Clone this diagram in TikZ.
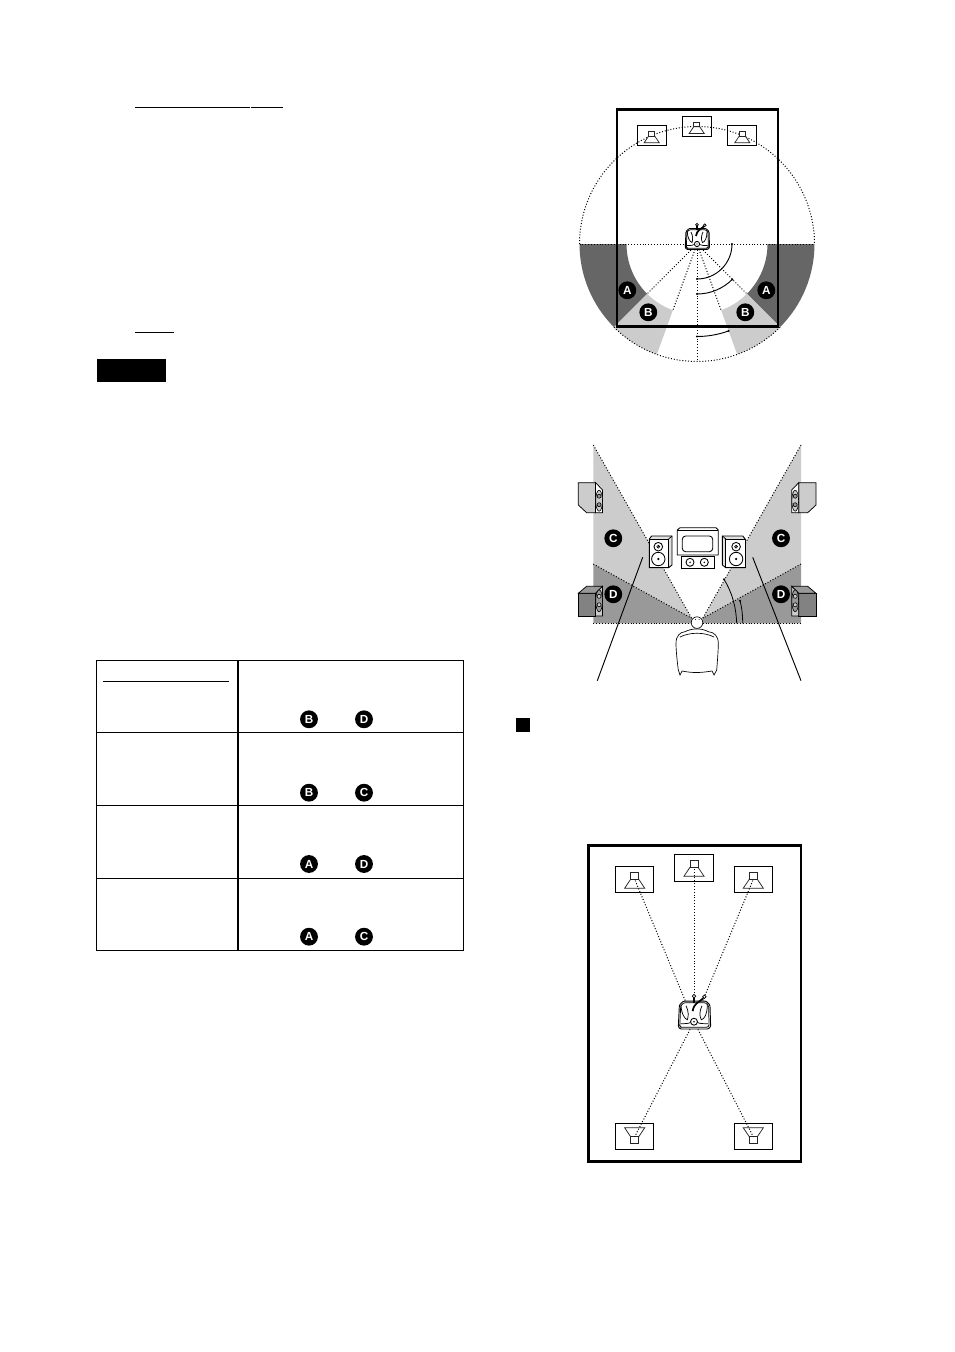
\documentclass[tikz,border=0pt]{standalone}
\usepackage{fontspec}
\usetikzlibrary{calc}
\setmainfont{Liberation Sans}
\definecolor{dkA}{gray}{0.40}
\definecolor{ltA}{gray}{0.80}
\definecolor{dkD}{gray}{0.60}
\tikzset{
  thinline/.style={line width=0.5pt,black},
  dots/.style={line width=0.75pt,black,dash pattern=on 0.75pt off 1.4pt},
  thickframe/.style={draw=black,line width=1.8pt},
  badge/.style={circle,fill=black,text=white,inner sep=0pt,minimum size=13.4pt,font=\bfseries\fontsize{8.8}{9}\selectfont},
  spkbox/.style={draw=black,line width=0.65pt,inner sep=0pt,minimum width=#1},
  cone/.style={draw=black!85,line width=0.55pt,fill=white},
  spkicon/.pic={
    \path[cone] (-3,0) -- (3,0) -- (7.5,6.7) -- (-7.5,6.7) -- cycle;
    \path[cone] (-3,-4.8) rectangle (3,0);
  },
  tvicon/.pic={
    \path[draw=black,line width=0.7pt,fill=white,rounded corners=0.8pt]
      (-11,-12.5) -- (-8,-15.5) -- (9,-15.5) -- (12,-12.5) -- (12.5,3.75) -- (10.75,5.5) -- (-10.5,5.5) -- (-11.75,3.75) -- cycle;
    \draw[line width=0.55pt,rounded corners=0.8pt]
      (-10,-12) -- (-7.5,-14.3) -- (8.5,-14.3) -- (11,-12) -- (11.3,3.2) -- (10,4.2) -- (-9.8,4.2) -- (-10.7,3.2) -- cycle;
    \draw[line width=0.55pt] (-9.8,-12.5) .. controls (-9.5,-6) and (-7,-2) .. (-5,-1.5) .. controls (-4,-4) and (-4,-8) .. (-6,-12);
    \draw[line width=0.55pt] (10,-12.5) .. controls (10,-6) and (8,-2) .. (5.5,-1.5) .. controls (4,-4) and (4,-8) .. (6,-12);
    \draw[line width=0.55pt] (-10,1.5) .. controls (-7,1.5) and (-4,1.5) .. (-2.5,0.5);
    \draw[line width=0.55pt] (10.5,1.5) .. controls (7,1.5) and (4,1.5) .. (2.5,0.5);
    \draw[line width=1.3pt] (7,-17.7) .. controls (3,-14) and (0,-14) .. (-1,-8);
    \draw[line width=0.9pt] (0,-18) -- (0,-14);
    \draw[line width=0.55pt,fill=white] (0,-19.25) circle (1.3);
    \draw[line width=0.55pt,fill=white] (7.75,-18.75) circle (1.3);
    \draw[line width=0.65pt,fill=white] (0,0) circle (2.6);
    \fill (0,0) circle (0.7);
  },
  sideupper/.pic={
    \draw[line width=0.55pt,fill=ltA] (0,0) -- (17.3,0) -- (17.3,30) -- (8.3,30) -- (0,22.3) -- cycle;
    \draw[line width=0.55pt,fill=white] (17.3,0) -- (24.3,7.3) -- (24.3,30) -- (17.3,30) -- cycle;
    \draw[line width=0.45pt,fill=ltA] (20.8,18) ellipse (3.4 and 10.5);
    \draw[line width=0.45pt,fill=dkD] (20.8,13.5) circle (2) (20.8,22) circle (2);
  },
  sidelower/.pic={
    \draw[line width=0.55pt,fill=dkD!85!black] (0,0) -- (17.3,0) -- (17.3,22.7) -- (0,22.7) -- cycle;
    \draw[line width=0.55pt,fill=dkD] (0,0) -- (8.3,-7) -- (24.3,-7) -- (17.3,0) -- cycle;
    \draw[line width=0.55pt,fill=ltA] (17.3,0) -- (24.3,-7) -- (24.3,22.7) -- (17.3,22.7) -- cycle;
    \draw[line width=0.45pt,fill=dkD] (20.8,7.5) ellipse (3.4 and 11);
    \draw[line width=0.45pt,fill=ltA] (20.8,3) circle (2) (20.8,11.5) circle (2);
  },
  frontspk/.pic={
    \draw[line width=0.65pt,fill=ltA!60!white] (0,0) -- (2.3,-3) -- (22.7,-3) -- (22.7,26) -- (19.3,28.7) -- (0,28.7) -- cycle;
    \draw[line width=0.65pt,fill=white] (0,0) rectangle (19.3,28.7);
    \draw[line width=0.55pt] (19.3,0) -- (22.7,-3);
    \draw[line width=0.65pt,fill=white] (9,7.7) circle (4.3);
    \draw[line width=0.45pt] (9,7.7) circle (1.5);
    \fill (9,7.7) circle (0.6);
    \draw[line width=0.65pt,fill=white] (9,20) circle (6.7);
    \fill (9,20) circle (1.3);
  },
}
\begin{document}
\begin{tikzpicture}[x=0.75pt,y=-0.75pt]
\useasboundingbox (0,0) rectangle (954,1352);
\fill[white] (0,0) rectangle (954,1352);

% ---- left column marks
\draw[black,line width=0.9pt] (135,107.3) -- (250,107.3);
\draw[black,line width=0.9pt] (251.3,107.3) -- (282.7,107.3);
\draw[black,line width=0.9pt] (135,332.3) -- (174,332.3);
\fill[black] (97,359) rectangle (166,382);

% ---- table
\draw[black,line width=0.75pt] (96.5,660.7) rectangle (463.3,950.5);
\draw[black,line width=1.2pt] (238,660.7) -- (238,950.5);
\draw[black,line width=0.75pt] (96.5,732.3) -- (463.3,732.3);
\draw[black,line width=0.75pt] (96.5,805.3) -- (463.3,805.3);
\draw[black,line width=0.75pt] (96.5,878.7) -- (463.3,878.7);
\draw[black,line width=0.75pt] (103.3,681.3) -- (228.7,681.3);
\node[badge] (t1a) at (309,719.3) {B};
\node[badge] (t1b) at (364,719.3) {D};
\node[badge] (t2a) at (309,792.7) {B};
\node[badge] (t2b) at (364,792.7) {C};
\node[badge] (t3a) at (309,864) {A};
\node[badge] (t3b) at (364,864) {D};
\node[badge] (t4a) at (309,936.7) {A};
\node[badge] (t4b) at (364,936.7) {C};

% ---- small square
\fill[black] (516,718) rectangle (530,732);

% ---- top diagram
\coordinate (c1) at (697,244);
\fill[dkA] (c1) ++(180:117.5) arc[start angle=180,end angle=135,radius=117.5] -- ($(c1)+(135:70.5)$) arc[start angle=135,end angle=180,radius=70.5] -- cycle;
\fill[dkA] (c1) ++(0:117.5) arc[start angle=0,end angle=45,radius=117.5] -- ($(c1)+(45:70.5)$) arc[start angle=45,end angle=0,radius=70.5] -- cycle;
\fill[ltA] (c1) ++(135:117.5) arc[start angle=135,end angle=110,radius=117.5] -- ($(c1)+(110:70.5)$) arc[start angle=110,end angle=135,radius=70.5] -- cycle;
\fill[ltA] (c1) ++(45:117.5) arc[start angle=45,end angle=70,radius=117.5] -- ($(c1)+(70:70.5)$) arc[start angle=70,end angle=45,radius=70.5] -- cycle;
\draw[dots] (c1) ++(180:117.5) arc[start angle=180,end angle=360,radius=117.5];
\draw[dots] (c1) ++(45:117.5) arc[start angle=45,end angle=135,radius=117.5];
\draw[dots] (c1) ++(180:117.5) -- ++(0:235);
\draw[dots] (c1) -- ++(90:117.5);
\draw[dots] (c1) -- ++(45:70.5);
\draw[dots] (c1) -- ++(70:70.5);
\draw[dots] (c1) -- ++(110:70.5);
\draw[dots] (c1) -- ++(135:70.5);
\foreach \r/\a in {35/0,50/45,92.5/70}{
  \draw[thinline,line width=0.7pt] (c1) ++(90:\r) arc[start angle=90,end angle=\a,radius=\r];
  \fill (c1) ++(90:\r) circle (1.1);
  \fill (c1) ++(\a:\r) circle (1.1);
}
\draw[thickframe] (617,109.5) rectangle (778,326.5);
\node[spkbox=21.5pt,minimum height=14.7pt] (s1l) at (652,135.5) {};
\node[spkbox=21.75pt,minimum height=15pt] (s1c) at (696.8,126.3) {};
\node[spkbox=21.5pt,minimum height=14.7pt] (s1r) at (741.8,135.5) {};
\pic at (651.7,136) {spkicon};
\pic at (696.7,126.7) {spkicon};
\pic at (742.3,136) {spkicon};
\pic at (c1) {tvicon};
\node[badge] (a1) at (627.3,290.3) {A};
\node[badge] (b1) at (648.3,312.3) {B};
\node[badge] (b2) at (745.3,312.3) {B};
\node[badge] (a2) at (766.3,290.3) {A};

% ---- middle diagram
\coordinate (al) at (691.7,618.3);
\coordinate (ar) at (702.7,618.3);
\fill[ltA] (593.3,445) -- (al) -- (593.3,564) -- cycle;
\fill[ltA] (801,445) -- (ar) -- (801,564) -- cycle;
\fill[dkD] (593.3,564) -- (al) -- (691.7,623.3) -- (593.3,623.3) -- cycle;
\fill[dkD] (801,564) -- (ar) -- (702.7,623.3) -- (801,623.3) -- cycle;
\draw[dots] (593.3,445) -- (al);
\draw[dots] (801,445) -- (ar);
\draw[dots] (593.3,564) -- (al);
\draw[dots] (801,564) -- (ar);
\draw[dots] (593.3,623.3) -- (691.7,623.3);
\draw[dots] (702.7,623.3) -- (801,623.3);
\pic at (578.3,482.7) {sideupper};
\pic at (578.3,593.3) {sidelower};
\pic[xscale=-1] at (816,482.7) {sideupper};
\pic[xscale=-1] at (816,593.3) {sidelower};
\pic at (649.3,539) {frontspk};
\pic[xscale=-1] at (745.1,539) {frontspk};
% television and centre speaker
\draw[line width=0.65pt,fill=white] (677.3,530) -- (680,527.7) -- (716,527.7) -- (718.3,530) -- (718.3,555) -- (677.3,555) -- cycle;
\draw[line width=0.55pt] (677.3,530) -- (718.3,530);
\draw[line width=0.65pt,rounded corners=2.5pt] (682.3,536) rectangle (712.7,551.7);
\draw[line width=0.65pt,fill=white] (681.3,556) rectangle (714,568.3);
\draw[line width=0.65pt] (690,562.3) circle (4) (704.3,562.3) circle (4);
\fill (690,562.3) circle (0.8) (704.3,562.3) circle (0.8);
% arrows of angle
\draw[line width=0.6pt] (736.7,623.3) .. controls (736,606) and (731.7,591.7) .. (724,579.3);
\draw[line width=0.6pt] (742.7,623.3) .. controls (742.7,615) and (741.7,606.7) .. (740,600.7);
\fill (724,579.3) circle (1.1) (740,600.7) circle (1.1);
% leaders
\coordinate (ll) at (597.3,680.7);
\coordinate (lr) at (801,680.7);
\draw[thinline,line width=0.7pt] (642.7,557.3) -- (ll);
\draw[thinline,line width=0.7pt] (752.7,557.3) -- (lr);
% listener
\draw[line width=0.5pt,fill=white] (678.3,670) .. controls (677,660) and (676,650) .. (676,643.3) .. controls (676,636) and (680,632) .. (685,631.7) .. controls (692,628) and (702,628) .. (708.3,631.7) .. controls (714,632) and (718.3,636) .. (718.3,643.3) .. controls (718.3,650) and (717.5,660) .. (716.7,670) -- (714,675) -- (712,671) .. controls (700,673) and (692,673) .. (682,671) -- (680,675) -- cycle;
\draw[line width=0.5pt] (680,637) .. controls (690,632) and (704,632) .. (714,637);
\draw[line width=0.5pt,fill=white] (697,622.6) circle (5.8);
\fill (695.5,619.5) circle (0.5) (699,619.5) circle (0.5);
\node[badge] (c1l) at (613.3,538.3) {C};
\node[badge] (d1l) at (613.3,594.3) {D};
\node[badge] (c1r) at (781,538.3) {C};
\node[badge] (d1r) at (781,594.3) {D};

% ---- bottom diagram
\coordinate (c3) at (694,1021.7);
\coordinate (i3c) at (694,867.3);
\coordinate (i3l) at (634.7,879.3);
\coordinate (i3r) at (753.3,879.3);
\coordinate (i3bl) at (634.7,1136.7);
\coordinate (i3br) at (753.3,1136.7);
\draw[thickframe] (588.3,845.3) rectangle (801,1161.3);
\node[spkbox=29.5pt,minimum height=20.25pt] (s3c) at (694,867.8) {};
\node[spkbox=28.5pt,minimum height=19.5pt] (s3l) at (634.3,879.3) {};
\node[spkbox=28.5pt,minimum height=19.5pt] (s3r) at (753.3,879.3) {};
\node[spkbox=28.5pt,minimum height=19.5pt] (s3bl) at (634.3,1136.3) {};
\node[spkbox=28.5pt,minimum height=19.5pt] (s3br) at (753.3,1136.3) {};
\pic[scale=1.35] at (i3c) {spkicon};
\pic[scale=1.35] at (i3l) {spkicon};
\pic[scale=1.35] at (i3r) {spkicon};
\pic[xscale=1.35,yscale=-1.35] at (i3bl) {spkicon};
\pic[xscale=1.35,yscale=-1.35] at (i3br) {spkicon};
\draw[dots] (c3) -- (i3c);
\draw[dots] (c3) -- (i3l);
\draw[dots] (c3) -- (i3r);
\draw[dots] (c3) -- (i3bl);
\draw[dots] (c3) -- (i3br);
\pic[scale=1.33] at (c3) {tvicon};
\end{tikzpicture}
\end{document}
